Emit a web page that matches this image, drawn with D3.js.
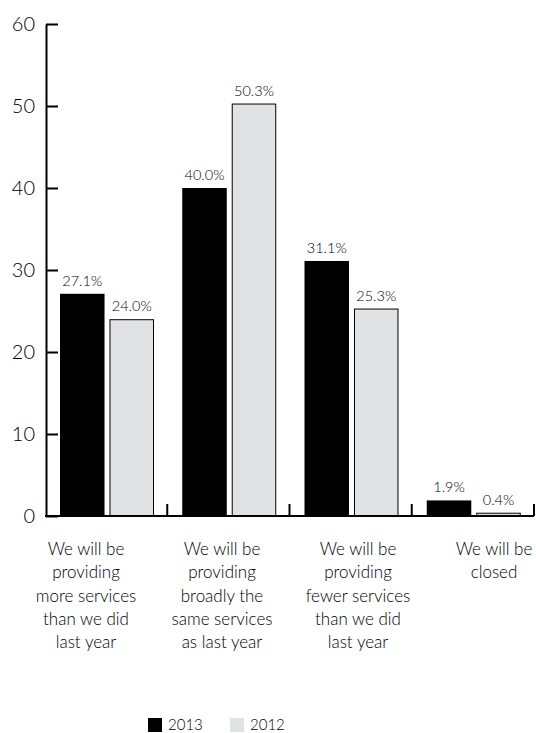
<!DOCTYPE html>
<html>
<head>
<meta charset="utf-8">
<script src="https://cdn.jsdelivr.net/npm/d3@7"></script>
<style>
  html, body { margin: 0; padding: 0; background: #fff; }
  svg { display: block; font-family: Lato, "Noto Sans", sans-serif; font-weight: 300; }
</style>
</head>
<body>
<svg id="chart" width="536" height="733"></svg>
<script>
// Survey answers: expected service levels, 2013 vs 2012 (%)
const categories = ["more", "same", "fewer", "closed"];
const categoryLines = [
  ["We will be", "providing", "more services", "than we did", "last year"],
  ["We will be", "providing", "broadly the", "same services", "as last year"],
  ["We will be", "providing", "fewer services", "than we did", "last year"],
  ["We will be", "closed"]
];
const seriesNames = ["2013", "2012"];
const values2013 = [27.1, 40.0, 31.1, 1.9];
const values2012 = [24.0, 50.3, 25.3, 0.4];
const yTicks = [0, 10, 20, 30, 40, 50, 60];

const seriesValues = { "2013": values2013, "2012": values2012 };
const fills = { "2013": "#000000", "2012": "#e1e2e4" };
const strokes = { "2013": "none", "2012": "#000000" };
const textColor = "#000000";

const svg = d3.select("#chart");

const x = d3.scaleBand().domain(categories).range([45, 534]).padding(0);
const x1 = d3.scaleBand().domain(seriesNames).range([15, 109]).paddingInner(0.1);
const y = d3.scaleLinear().domain([0, 60]).range([516, 24]);
const labelX = d3.scalePoint().domain(categories).range([86, 494]);

// Bars
const groups = svg.append("g").selectAll("g")
  .data(categories)
  .join("g")
  .attr("transform", d => `translate(${x(d)},0)`);

groups.selectAll("rect")
  .data((c, i) => seriesNames.map(s => ({ s, v: seriesValues[s][i] })))
  .join("rect")
  .attr("x", d => x1(d.s) + (d.s === "2012" ? 0.5 : 0))
  .attr("y", d => y(d.v) + (d.s === "2012" ? 0.5 : 0))
  .attr("width", d => x1.bandwidth() - (d.s === "2012" ? 1 : 0))
  .attr("height", d => Math.max(0, y(0) - y(d.v) - (d.s === "2012" ? 0.5 : 0)))
  .attr("fill", d => fills[d.s])
  .attr("stroke", d => strokes[d.s])
  .attr("stroke-width", 1);

// Value labels
groups.selectAll("text.val")
  .data((c, i) => seriesNames.map(s => ({ s, v: seriesValues[s][i] })))
  .join("text")
  .attr("class", "val")
  .attr("x", d => x1(d.s) + x1.bandwidth() / 2)
  .attr("y", d => y(d.v) - 8)
  .attr("text-anchor", "middle")
  .attr("font-size", 14.5)
  .attr("fill", textColor)
  .text(d => d.v.toFixed(1) + "%");

// Y axis with ticks pointing into the plot
const yAxis = svg.append("g")
  .attr("transform", "translate(46,0)")
  .call(d3.axisLeft(y).tickValues(yTicks).tickSizeInner(-12).tickSizeOuter(0).tickPadding(11));
yAxis.select(".domain").attr("stroke", "#000").attr("stroke-width", 2);
yAxis.selectAll(".tick line").attr("stroke", "#000").attr("stroke-width", 2);
yAxis.selectAll(".tick text")
  .attr("font-size", 20)
  .attr("font-family", "Lato, 'Noto Sans', sans-serif")
  .attr("font-weight", 300)
  .attr("fill", textColor);

// X baseline with group separators
const xAxis = svg.append("g");
xAxis.append("line")
  .attr("x1", x.range()[0]).attr("x2", x.range()[1])
  .attr("y1", y(0)).attr("y2", y(0))
  .attr("stroke", "#000").attr("stroke-width", 2);
const boundaries = categories.map(c => x(c)).slice(1).concat([x.range()[1]]);
xAxis.selectAll("line.sep")
  .data(boundaries)
  .join("line")
  .attr("class", "sep")
  .attr("x1", d => d).attr("x2", d => d)
  .attr("y1", y(0)).attr("y2", y(0) - 12)
  .attr("stroke", "#000").attr("stroke-width", 2);

// Category labels
const catText = svg.append("g").selectAll("text")
  .data(categories)
  .join("text")
  .attr("text-anchor", "middle")
  .attr("font-size", 17)
  .attr("fill", textColor);
catText.selectAll("tspan")
  .data((c, i) => categoryLines[i])
  .join("tspan")
  .attr("x", function () { return labelX(d3.select(this.parentNode).datum()); })
  .attr("y", (d, j) => 555 + j * 23.3)
  .text(d => d);

// Legend
const legend = svg.append("g").selectAll("g")
  .data(seriesNames)
  .join("g")
  .attr("transform", (d, i) => `translate(${148 + i * 82},718)`);
legend.append("rect")
  .attr("width", 14).attr("height", 14)
  .attr("fill", d => fills[d]);
legend.append("text")
  .attr("x", 20).attr("y", 12)
  .attr("font-size", 15)
  .attr("fill", textColor)
  .text(d => d);
</script>
</body>
</html>
